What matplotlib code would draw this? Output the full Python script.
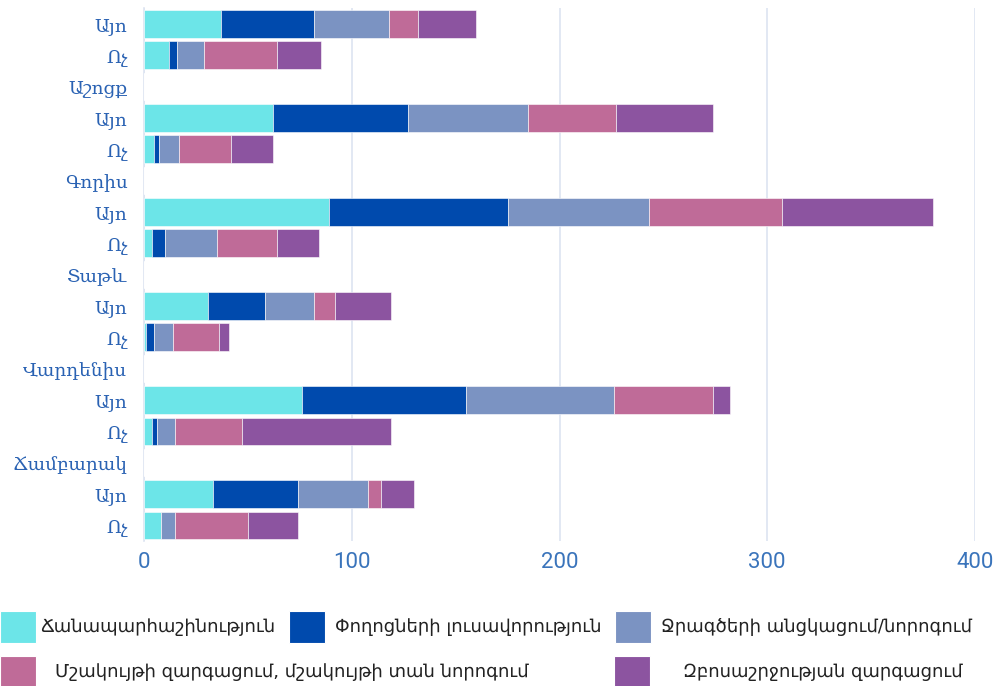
import numpy as np
import matplotlib.pyplot as plt
from matplotlib.patches import Rectangle

# rows top to bottom, group-name rows carry no bars
rows = ["Այո", "Ոչ", "Աշոցք", "Այո", "Ոչ", "Գորիս", "Այո", "Ոչ", "Տաթև",
        "Այո", "Ոչ", "Վարդենիս", "Այո", "Ոչ", "Ճամբարակ", "Այո", "Ոչ"]

series = ["Ճանապարհաշինություն",
          "Փողոցների լուսավորություն",
          "Ջրագծերի անցկացում/նորոգում",
          "Մշակույթի զարգացում, մշակույթի տան նորոգում",
          "Զբոսաշրջության զարգացում"]

roads  = [37, 12, 0, 62, 5, 0, 89, 4, 0, 31, 1, 0, 76, 4, 0, 33, 8]
lights = [45, 4, 0, 65, 2, 0, 86, 6, 0, 27, 4, 0, 79, 2, 0, 41, 0]
water  = [36, 13, 0, 58, 10, 0, 68, 25, 0, 24, 9, 0, 71, 9, 0, 34, 7]
cult   = [14, 35, 0, 42, 25, 0, 64, 29, 0, 10, 22, 0, 48, 32, 0, 6, 35]
tour   = [28, 21, 0, 47, 20, 0, 73, 20, 0, 27, 5, 0, 8, 72, 0, 16, 24]

colors = ["#6ce5e8", "#004aad", "#7b93c2", "#bf6b98", "#8c54a0"]

fig = plt.figure(figsize=(10.01, 6.86), dpi=100)
ax = fig.add_axes([0.1439, 0.2114, 0.8301, 0.7766])

y = np.arange(len(rows))
left = np.zeros(len(rows))
for vals, c in zip([roads, lights, water, cult, tour], colors):
    vals = np.array(vals, dtype=float)
    ax.barh(y, vals, left=left, height=0.88, color=c,
            edgecolor="white", linewidth=0.4, zorder=3)
    left += vals

ax.set_xlim(0, 400)
ax.set_ylim(len(rows) - 0.5, -0.5)
ax.set_yticks(y)
ax.set_yticklabels(rows, fontfamily="DejaVu Serif", fontsize=13.3, color="#2a62b3")
ax.set_xticks([0, 100, 200, 300, 400])
ax.tick_params(axis="x", labelsize=16, labelcolor="#3a74bb", length=0, pad=8)
ax.tick_params(axis="y", length=0, pad=12)
for t in ax.get_xticklabels():
    t.set_fontfamily("Roboto")
ax.grid(axis="x", color="#dde4f1", linewidth=1.2, zorder=0)
for s in ["top", "right", "bottom"]:
    ax.spines[s].set_visible(False)
ax.spines["left"].set_color("#dde4f1")
ax.spines["left"].set_linewidth(1.2)

# legend drawn by hand to match the two-row layout (pixel positions)
W, H = 1001.0, 686.0
leg = [(0, 611, 40, 0), (289, 611, 335, 1), (615, 611, 661, 2),
       (0, 656, 55, 3), (614, 656, 683, 4)]
for px, py, tx, i in leg:
    fig.patches.append(Rectangle((px / W, 1 - (py + 32) / H), 36 / W, 32 / H,
                                 transform=fig.transFigure, color=colors[i],
                                 ec="white", lw=0.8))
    fig.text(tx / W, 1 - (py + 16) / H, series[i], fontsize=13,
             color="#222222", va="center", ha="left", fontfamily="DejaVu Sans")

fig.savefig("out.png", dpi=100)
